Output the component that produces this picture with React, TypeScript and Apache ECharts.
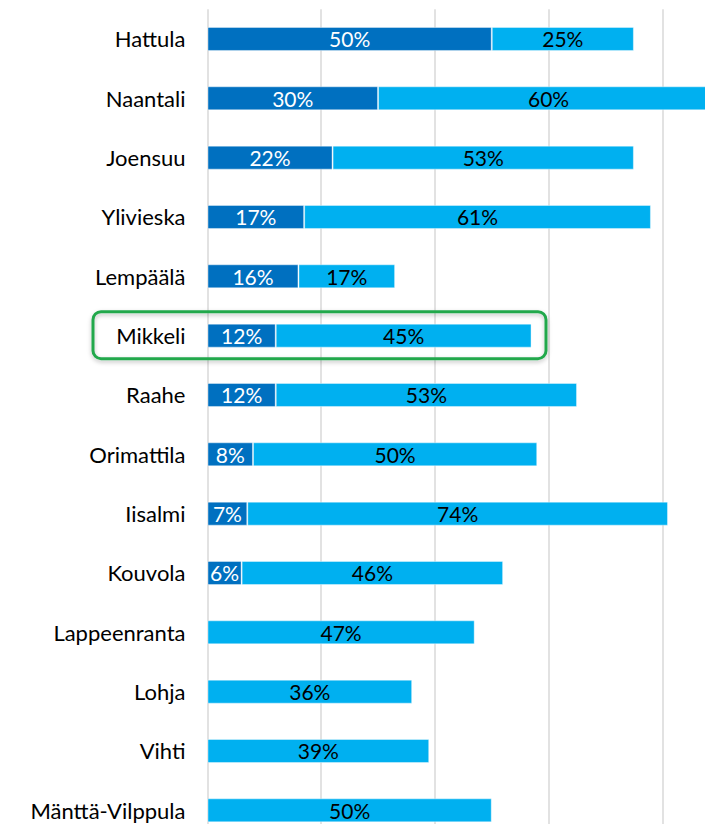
import React, { useEffect, useRef } from "react";
import * as echarts from "echarts";

const categories = [
  "Hattula",
  "Naantali",
  "Joensuu",
  "Ylivieska",
  "Lempäälä",
  "Mikkeli",
  "Raahe",
  "Orimattila",
  "Iisalmi",
  "Kouvola",
  "Lappeenranta",
  "Lohja",
  "Vihti",
  "Mänttä-Vilppula",
];
const darkValues: (number | null)[] = [50, 30, 22, 17, 16, 12, 12, 8, 7, 6, null, null, null, null];
const lightValues: number[] = [25, 60, 53, 61, 17, 45, 53, 50, 74, 46, 47, 36, 39, 50];
const highlighted = "Mikkeli";

const FONT = "Lato, 'Open Sans', sans-serif";
const FS_CAT = 22;
const FS_VAL = 21;

export default function App() {
  const ref = useRef<HTMLDivElement>(null);
  useEffect(() => {
    if (!ref.current) return;
    const chart = echarts.init(ref.current, undefined, { renderer: "svg" });
    chart.setOption({
      animation: false,
      backgroundColor: "#ffffff",
      grid: { left: 207.5, right: 0, top: 9.3, bottom: 0, containLabel: false },
      xAxis: {
        type: "value",
        min: 0,
        max: 100,
        interval: 20,
        axisLabel: { show: false },
        axisLine: { show: false },
        axisTick: { show: false },
        splitLine: { show: true, lineStyle: { color: "#d9d9d9", width: 1.5 } },
      },
      yAxis: {
        type: "category",
        data: categories,
        inverse: true,
        axisLine: { show: false },
        axisTick: { show: false },
        axisLabel: { color: "#000000", fontSize: FS_CAT, fontFamily: FONT, margin: 22 },
      },
      series: [
        {
          type: "bar",
          stack: "total",
          data: darkValues,
          barWidth: 24,
          itemStyle: { color: "#0070C0", borderColor: "rgba(255,255,255,0.4)", borderWidth: 1 },
          label: {
            show: true,
            position: "inside",
            formatter: "{c}%",
            color: "#ffffff",
            fontSize: FS_VAL,
            fontFamily: FONT,
          },
        },
        {
          type: "bar",
          stack: "total",
          data: lightValues,
          barWidth: 24,
          itemStyle: { color: "#00B0F0", borderColor: "rgba(255,255,255,0.4)", borderWidth: 1 },
          label: {
            show: true,
            position: "inside",
            formatter: "{c}%",
            color: "#000000",
            fontSize: FS_VAL,
            fontFamily: FONT,
          },
        },
      ],
    });
    const cy = chart.convertToPixel({ yAxisIndex: 0 }, highlighted) as number;
    chart.setOption({
      graphic: [
        {
          type: "rect",
          shape: { x: 93, y: cy - 24, width: 453, height: 47, r: 8 },
          style: {
            fill: "none",
            stroke: "#22A84C",
            lineWidth: 3,
            shadowBlur: 4,
            shadowColor: "rgba(0,0,0,0.25)",
            shadowOffsetY: 2,
          },
          z: 100,
        },
      ],
    });
    return () => chart.dispose();
  }, []);
  return (
    <div
      ref={ref}
      style={{ position: "fixed", left: 0, top: 0, width: 775.5, height: 840, background: "#fff" }}
    />
  );
}
